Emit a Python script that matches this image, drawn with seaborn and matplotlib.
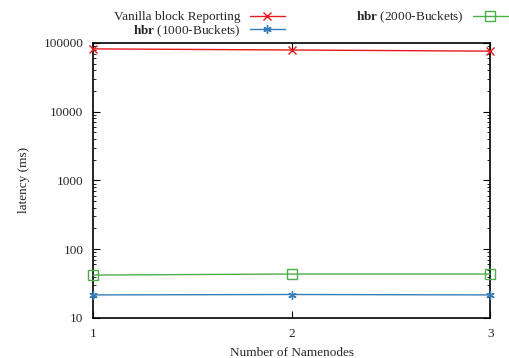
import matplotlib
matplotlib.use("Agg")
import matplotlib.pyplot as plt
import seaborn as sns
import pandas as pd
from matplotlib.ticker import LogLocator, FixedLocator, NullFormatter

namenodes = [1, 2, 3]
vanilla = [82000, 79000, 76000]
hbr1000 = [21.6, 21.9, 21.6]
hbr2000 = [42, 43.5, 43.5]

sns.set_style("ticks")
plt.rcParams['font.family'] = ['Liberation Serif', 'DejaVu Serif']
plt.rcParams['mathtext.fontset'] = 'custom'
plt.rcParams['mathtext.rm'] = 'Liberation Serif'
plt.rcParams['mathtext.bf'] = 'Liberation Serif:bold'

fig = plt.figure(figsize=(5.09, 3.58), dpi=100)
ax = fig.add_axes([0.183, 0.112, 0.78, 0.768])

df = pd.DataFrame({
    "x": namenodes * 3,
    "y": vanilla + hbr1000 + hbr2000,
    "s": ["Vanilla block Reporting"] * 3 + [r"$\mathbf{hbr}$ (1000-Buckets)"] * 3 + [r"$\mathbf{hbr}$ (2000-Buckets)"] * 3,
})
colors = ["#e41a1c", "#377eb8", "#4daf4a"]
markers = ["x", (6, 2, 0), "s"]
msizes = [6, 6, 6.5]
labels = df["s"].unique()
for lab, c, m, ms in zip(labels, colors, markers, msizes):
    sub = df[df["s"] == lab]
    sns.lineplot(data=sub, x="x", y="y", ax=ax, color=c, marker=m, markersize=ms,
                 markerfacecolor="none" if m == "s" else c, markeredgecolor=c,
                 markeredgewidth=1.0, linewidth=1.0, label=lab, legend=False,
                 clip_on=False, zorder=3)

ax.set_yscale("log")
ax.set_ylim(10, 100000)
ax.set_xlim(1, 3)
ax.xaxis.set_major_locator(FixedLocator(namenodes))
ax.set_xticklabels([str(v) for v in namenodes])
ax.yaxis.set_major_locator(FixedLocator([10, 100, 1000, 10000, 100000]))
ax.set_yticklabels(["10", "100", "1000", "10000", "100000"])
ax.yaxis.set_minor_locator(LogLocator(base=10, subs=range(2, 10)))
ax.yaxis.set_minor_formatter(NullFormatter())
ax.tick_params(direction="in", which="both", top=True, right=True, labelsize=9.5, color="black")
ax.tick_params(which="major", length=5, pad=7)
ax.tick_params(which="minor", length=2.5)
for sp in ax.spines.values():
    sp.set_linewidth(1.2)
    sp.set_color("black")
ax.set_xlabel("Number of Namenodes", fontsize=9.5, labelpad=5)
ax.set_ylabel("latency (ms)", fontsize=9.5, labelpad=10)

handles, labs = ax.get_legend_handles_labels()
order = [0, 1, 2]
leg = fig.legend([handles[i] for i in order], [labs[i] for i in order], ncol=2,
                 loc="upper right", bbox_to_anchor=(1.012, 0.994), frameon=False,
                 markerfirst=False, fontsize=9.5, handlelength=2.65, columnspacing=5.4,
                 labelspacing=0.0, borderaxespad=0.25, handletextpad=0.7,
                 borderpad=0.3)

fig.savefig("out.png", dpi=100)
